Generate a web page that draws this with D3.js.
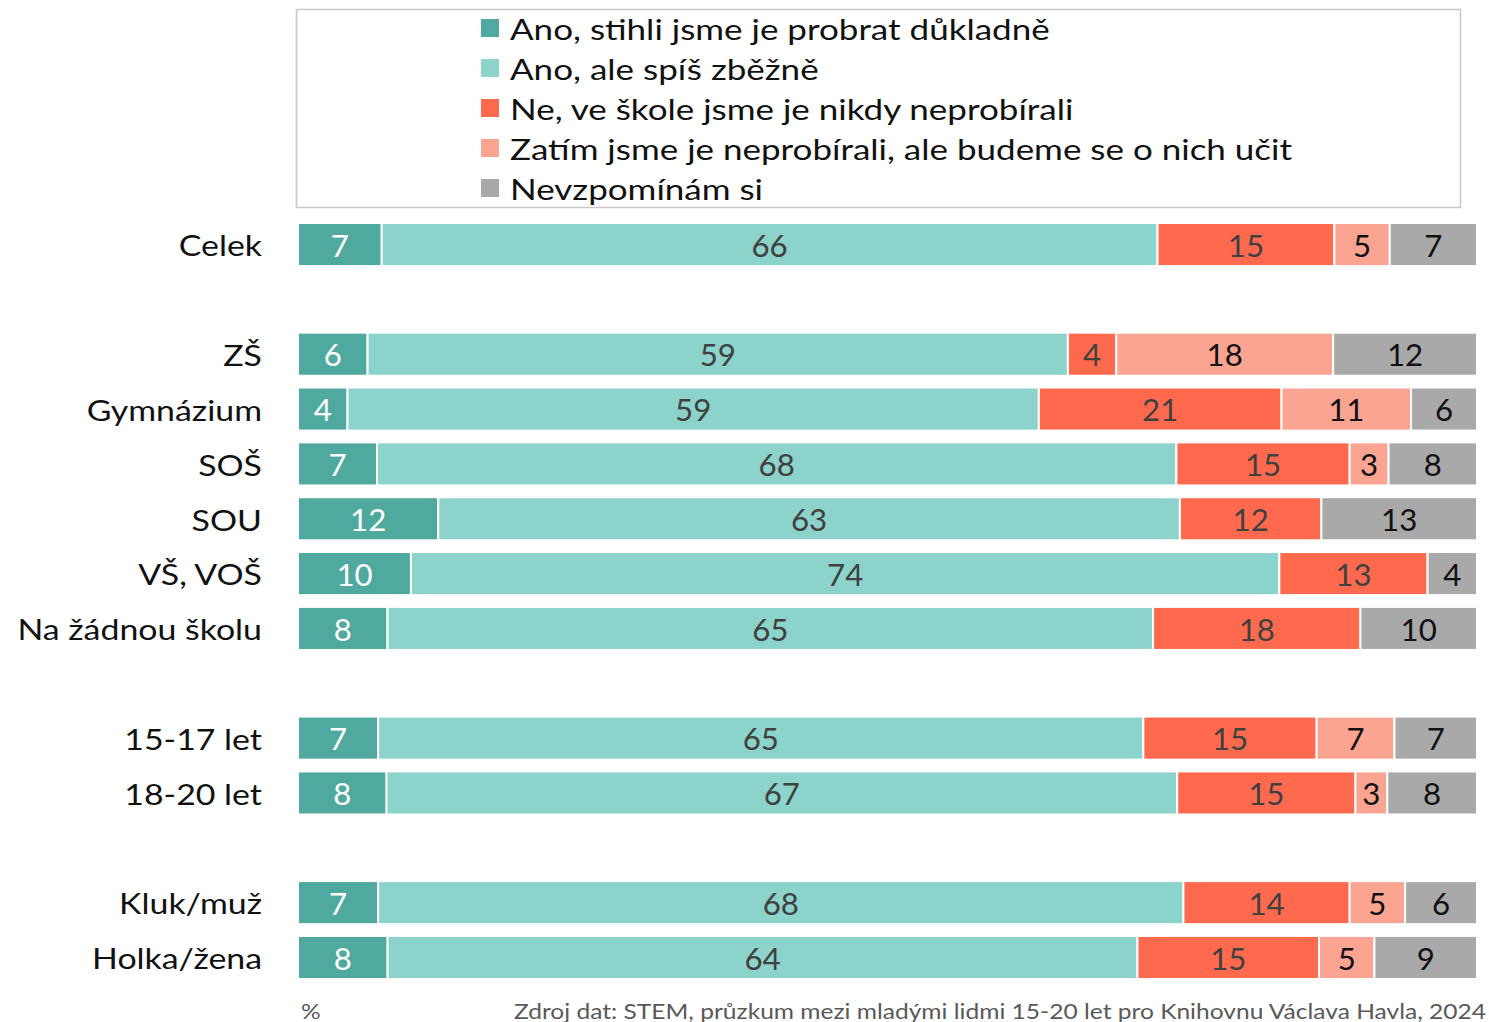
<!DOCTYPE html>
<html>
<head>
<meta charset="utf-8">
<title>Probírali jste ve škole</title>
<style>
body { margin: 0; background: white; }
#chart { display: block; }
text { font-family: Lato, Carlito, Calibri, "Noto Sans", sans-serif; }
.cat { font-size: 28px; fill: #111; text-anchor: end; dominant-baseline: central; }
.val { font-size: 30px; text-anchor: middle; dominant-baseline: central; }
.legend text { font-size: 28px; fill: #111; dominant-baseline: central; }
.note { font-size: 21px; fill: #595959; }
</style>
</head>
<body>
<script src="https://cdn.jsdelivr.net/npm/d3@7"></script>
<svg id="chart" width="1489" height="1022"></svg>
<script>
const series = [
    'Ano, stihli jsme je probrat důkladně',
    'Ano, ale spíš zběžně',
    'Ne, ve škole jsme je nikdy neprobírali',
    'Zatím jsme je neprobírali, ale budeme se o nich učit',
    'Nevzpomínám si'
];
const colors = ['#4fa99f', '#8cd3cb', '#ff6a4f', '#fca492', '#a9a9a9'];
const labelColors = ['#ffffff', '#404040', '#404040', '#111111', '#111111'];

// rows, '' entries are spacer rows between groups
const categories = ['Celek', '', 'ZŠ', 'Gymnázium', 'SOŠ', 'SOU', 'VŠ, VOŠ', 'Na žádnou školu',
    '', '15-17 let', '18-20 let', '', 'Kluk/muž', 'Holka/žena'];

// percentages (labels are rounded)
const valDukladne = [7.1, null, 5.9, 4.2, 6.7, 11.9, 9.6, 7.6, null, 6.8, 7.5, null, 6.8, 7.6];
const valZbezne   = [65.8, null, 59.4, 58.7, 67.8, 62.9, 73.8, 65.0, null, 64.9, 67.0, null, 68.3, 63.6];
const valNikdy    = [15.0, null, 4.1, 20.6, 14.7, 12.0, 12.6, 17.6, null, 14.7, 15.1, null, 14.1, 15.4];
const valBudeme   = [4.7, null, 18.4, 11.0, 3.3, 0, 0, 0, null, 6.6, 2.7, null, 4.7, 4.7];
const valNevim    = [7.4, null, 12.2, 5.6, 7.5, 13.2, 4.2, 9.9, null, 7.0, 7.6, null, 6.1, 8.7];

const svg = d3.select('#chart');

// text in the original is horizontally stretched
function stretchedText(sel, x, y, sx){
    return sel.attr('transform', (d, i) => {
        const px = typeof x === 'function' ? x(d, i) : x;
        const py = typeof y === 'function' ? y(d, i) : y;
        return `translate(${px},${py}) scale(${sx},1)`;
    });
}

const rowKeys = categories.map((c, i) => c === '' ? 'gap' + i : c);
const rows = rowKeys.map((key, i) => ({
    key,
    label: categories[i],
    values: [valDukladne[i], valZbezne[i], valNikdy[i], valBudeme[i], valNevim[i]]
})).filter(r => r.values[0] !== null);

const x = d3.scaleLinear().domain([0, 1]).range([298, 1477]);
const y = d3.scaleBand().domain(rowKeys).range([223, 979]).paddingInner(0.215).paddingOuter(0);

// category labels
svg.append('g').selectAll('text')
    .data(rows)
    .join('text')
    .attr('class', 'cat')
    .call(stretchedText, 262, d => y(d.key) + y.bandwidth() / 2 + 1, 1.21)
    .text(d => d.label);

// stacked bars, normalised to 100 %
const segments = [];
for (const r of rows){
    const total = d3.sum(r.values);
    let acc = 0;
    r.values.forEach((v, j) => {
        segments.push({ row: r.key, j, v, x0: acc / total, x1: (acc + v) / total });
        acc += v;
    });
}

const seg = svg.append('g').selectAll('g')
    .data(segments.filter(s => s.v > 0))
    .join('g');

seg.append('rect')
    .attr('x', d => x(d.x0))
    .attr('y', d => y(d.row))
    .attr('width', d => x(d.x1) - x(d.x0))
    .attr('height', y.bandwidth())
    .attr('fill', d => colors[d.j])
    .attr('stroke', 'white')
    .attr('stroke-width', 2);

seg.append('text')
    .attr('class', 'val')
    .call(stretchedText, d => (x(d.x0) + x(d.x1)) / 2, d => y(d.row) + y.bandwidth() / 2 + 1, 1.04)
    .attr('fill', d => labelColors[d.j])
    .text(d => Math.round(d.v));

// legend
svg.append('rect')
    .attr('x', 296.5).attr('y', 9.5)
    .attr('width', 1164).attr('height', 198)
    .attr('fill', 'none')
    .attr('stroke', '#c8c8c8')
    .attr('stroke-width', 1.5);

const legend = svg.append('g').attr('class', 'legend').selectAll('g')
    .data(series)
    .join('g')
    .attr('transform', (d, i) => `translate(481,${28 + i * 40})`);

legend.append('rect')
    .attr('x', 0).attr('y', -9)
    .attr('width', 18).attr('height', 18)
    .attr('fill', (d, i) => colors[i]);

legend.append('text')
    .call(stretchedText, 29, 1, 1.25)
    .text(d => d);

// notes
svg.append('text').attr('class', 'note')
    .call(stretchedText, 301, 1019, 1.17)
    .text('%');

svg.append('text').attr('class', 'note')
    .attr('text-anchor', 'end')
    .call(stretchedText, 1486, 1019, 1.17)
    .text('Zdroj dat: STEM, průzkum mezi mladými lidmi 15-20 let pro Knihovnu Václava Havla, 2024');
</script>
</body>
</html>
